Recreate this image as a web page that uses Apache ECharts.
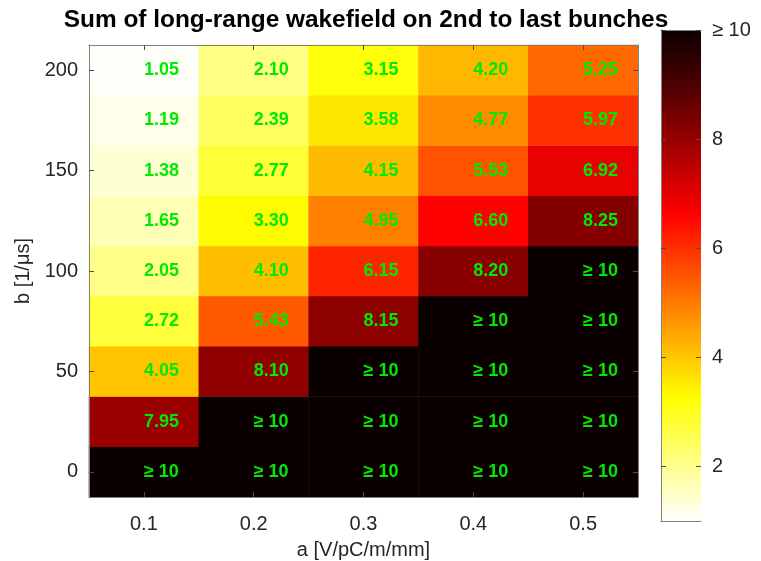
<!DOCTYPE html>
<html>
<head>
<meta charset="utf-8">
<script src="https://cdn.jsdelivr.net/npm/echarts@6/dist/echarts.min.js"></script>
<style>html,body{margin:0;padding:0;background:#fff;}#c{width:761px;height:561px;}</style>
</head>
<body>
<div id="c"></div>
<script>
// ---- data ----
const GE = '>=10'; // cell is at or above the colour limit
const aLabels = ['0.1', '0.2', '0.3', '0.4', '0.5'];
const bLabels = ['0', '25', '50', '75', '100', '125', '150', '175', '200'];
const row_b200 = [1.05, 2.10, 3.15, 4.20, 5.25];
const row_b175 = [1.19, 2.39, 3.58, 4.77, 5.97];
const row_b150 = [1.38, 2.77, 4.15, 5.53, 6.92];
const row_b125 = [1.65, 3.30, 4.95, 6.60, 8.25];
const row_b100 = [2.05, 4.10, 6.15, 8.20, GE];
const row_b75  = [2.72, 5.43, 8.15, GE, GE];
const row_b50  = [4.05, 8.10, GE, GE, GE];
const row_b25  = [7.95, GE, GE, GE, GE];
const row_b0   = [GE, GE, GE, GE, GE];
const rowsBottomUp = [row_b0, row_b25, row_b50, row_b75, row_b100, row_b125, row_b150, row_b175, row_b200];
const colorMin = 1;
const colorMax = 10;
const cbTickStep = 2;
const cbTopLabel = '≥ 10';

// ---- build ----
const heatData = [];
rowsBottomUp.forEach((row, yi) => {
  row.forEach((v, xi) => {
    const isGE = v === GE;
    heatData.push({
      value: [xi, yi, isGE ? colorMax : v],
      label: { formatter: isGE ? '≥ 10' : v.toFixed(2) }
    });
  });
});

const FONT = 'Liberation Sans';
const TXT = '#262626';
const frame = { show: true, lineStyle: { color: '#808080', width: 1 } };
function tickIn(extra) {
  return Object.assign({ show: true, inside: true, length: 5, lineStyle: { color: '#4d4d4d', width: 1 } }, extra || {});
}
const CB_LEFT = 661, CB_TOP = 30, CB_W = 40, CB_H = 491;
// tick grid for the colour bar: same scale as the bar, extended down to 0 so ticks fall on 2,4,6,8
const CB_TICK_H = CB_H * colorMax / (colorMax - colorMin);
const cbLabelFmt = v => (v === colorMax ? cbTopLabel : (v < colorMin ? '' : String(v)));

const chart = echarts.init(document.getElementById('c'), null, { renderer: 'canvas' });
chart.setOption({
  backgroundColor: '#fff',
  animation: false,
  textStyle: { fontFamily: FONT },
  title: {
    text: 'Sum of long-range wakefield on 2nd to last bunches',
    left: 361, top: 3, textAlign: 'center',
    textStyle: { fontFamily: FONT, fontWeight: 'bold', fontSize: 24.4, color: '#000' }
  },
  grid: [
    { left: 89, top: 45, width: 549, height: 452, outerBoundsMode: 'none', containLabel: false },
    { left: CB_LEFT, top: CB_TOP, width: CB_W, height: CB_H, outerBoundsMode: 'none', containLabel: false },
    { left: CB_LEFT, top: CB_TOP, width: CB_W, height: CB_TICK_H, outerBoundsMode: 'none', containLabel: false }
  ],
  xAxis: [
    { gridIndex: 0, type: 'category', data: aLabels, position: 'bottom', z: 10,
      axisLine: frame, axisTick: tickIn({ alignWithLabel: true }),
      axisLabel: { fontSize: 20, color: TXT, margin: 17, fontFamily: FONT },
      name: 'a [V/pC/m/mm]', nameLocation: 'middle', nameGap: 43,
      nameTextStyle: { fontSize: 20, color: TXT, fontFamily: FONT },
      splitLine: { show: false } },
    { gridIndex: 0, type: 'category', data: aLabels, position: 'top', z: 10,
      axisLine: frame, axisTick: tickIn({ alignWithLabel: true }),
      axisLabel: { show: false }, splitLine: { show: false } },
    { gridIndex: 1, type: 'value', min: 0, max: 1, position: 'bottom', zlevel: 1,
      axisLine: frame, axisTick: { show: false }, axisLabel: { show: false }, splitLine: { show: false } },
    { gridIndex: 1, type: 'value', min: 0, max: 1, position: 'top', zlevel: 1,
      axisLine: frame, axisTick: { show: false }, axisLabel: { show: false }, splitLine: { show: false } },
    { gridIndex: 2, type: 'value', min: 0, max: 1, show: false }
  ],
  yAxis: [
    { gridIndex: 0, type: 'category', data: bLabels, position: 'left', z: 10,
      axisLine: frame, axisTick: tickIn({ alignWithLabel: true, interval: 1 }),
      axisLabel: { interval: 1, fontSize: 20, color: TXT, margin: 11, fontFamily: FONT },
      name: 'b [1/μs]', nameLocation: 'middle', nameGap: 50,
      nameTextStyle: { fontSize: 20, color: TXT, fontFamily: FONT },
      splitLine: { show: false } },
    { gridIndex: 0, type: 'category', data: bLabels, position: 'right', z: 10,
      axisLine: frame, axisTick: tickIn({ alignWithLabel: true, interval: 1 }),
      axisLabel: { show: false }, splitLine: { show: false } },
    // colour bar frame (left / right edges)
    { gridIndex: 1, type: 'value', min: colorMin, max: colorMax, position: 'left', zlevel: 1,
      axisLine: frame, axisTick: { show: false }, axisLabel: { show: false }, splitLine: { show: false } },
    { gridIndex: 1, type: 'value', min: colorMin, max: colorMax, position: 'right', zlevel: 1,
      axisLine: frame, axisTick: { show: false }, axisLabel: { show: false }, splitLine: { show: false } },
    // colour bar ticks and labels
    { gridIndex: 2, type: 'value', min: 0, max: colorMax, interval: cbTickStep, position: 'left', zlevel: 2,
      axisLine: { show: false }, axisTick: tickIn(), axisLabel: { show: false }, splitLine: { show: false } },
    { gridIndex: 2, type: 'value', min: 0, max: colorMax, interval: cbTickStep, position: 'right', zlevel: 2,
      axisLine: { show: false }, axisTick: tickIn(),
      axisLabel: { fontSize: 20, color: TXT, margin: 11, fontFamily: FONT, formatter: cbLabelFmt },
      splitLine: { show: false } }
  ],
  visualMap: {
    type: 'continuous', min: colorMin, max: colorMax, seriesIndex: 0,
    calculable: false, show: true, orient: 'vertical', z: 1,
    left: CB_LEFT, top: CB_TOP, itemWidth: CB_W, itemHeight: CB_H, padding: 0, text: null,
    inRange: { color: ['#ffffff', '#ffff80', '#ffff00', '#ffaa00', '#ff5500', '#ff0000', '#aa0000', '#550000', '#0b0000'] }
  },
  series: [{
    type: 'heatmap', xAxisIndex: 0, yAxisIndex: 0,
    data: heatData,
    itemStyle: { borderWidth: 0 },
    label: { show: true, align: 'left', color: '#00ea00', fontWeight: 'bold', fontSize: 18, fontFamily: FONT },
    emphasis: { disabled: true }
  }]
});
</script>
</body>
</html>
